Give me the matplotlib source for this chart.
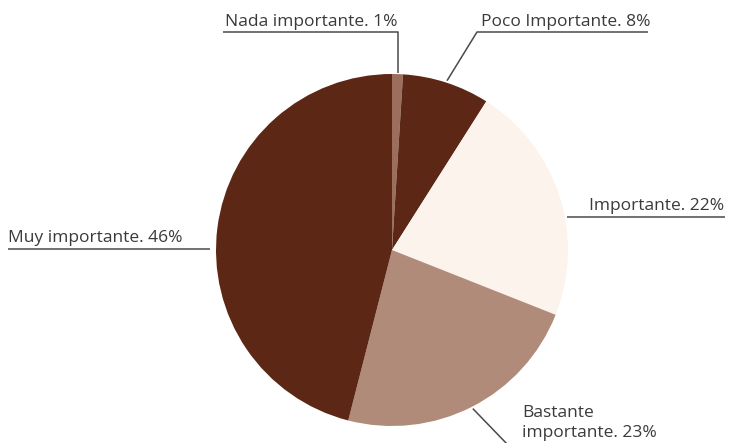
import numpy as np
import matplotlib
matplotlib.use("Agg")
import matplotlib.pyplot as plt

# Survey answers, clockwise from 12 o'clock
categories = ["Nada importante", "Poco Importante", "Importante",
              "Bastante importante", "Muy importante"]
shares = [1, 8, 22, 23, 46]
labels = ["Nada importante. 1%", "Poco Importante. 8%", "Importante. 22%",
          "Bastante\nimportante. 23%", "Muy importante. 46%"]
colors = ["#9c6f5c", "#5d2715", "#fcf3ec", "#b18b79", "#5d2715"]

W, H = 732, 443
fig = plt.figure(figsize=(W / 100, H / 100), dpi=100)
ax = fig.add_axes([0, 0, 1, 1])

cx, cy, R = 392, H - 250, 176
wedges, _ = ax.pie(shares, colors=colors, startangle=90, counterclock=False,
                   center=(cx, cy), radius=R, frame=True,
                   wedgeprops=dict(linewidth=0))
ax.set_xlim(0, W)
ax.set_ylim(0, H)
ax.set_aspect("equal")
ax.axis("off")

txt = dict(fontsize=12.5, color="#3a3a3a", family=["Open Sans", "DejaVu Sans"])
line = dict(color="#4a4a4a", lw=1.1, solid_capstyle="butt")


def edge(i, r=R + 1):
    w = wedges[i]
    a = np.deg2rad((w.theta1 + w.theta2) / 2)
    return cx + r * np.cos(a), cy + r * np.sin(a)


def py(y):
    return H - y

# Nada importante: vertical riser, underline to the left
x0, y0 = edge(0)
ax.plot([x0, x0, 223], [y0, py(32), py(32)], **line)
ax.text(225, py(26), labels[0], ha="left", va="baseline", **txt)

# Poco Importante: diagonal riser, underline to the right
x0, y0 = edge(1, R + 2)
ax.plot([x0, 477, 648], [y0, py(32), py(32)], **line)
ax.text(481, py(26), labels[1], ha="left", va="baseline", **txt)

# Importante: horizontal underline starting at the rim
yl = py(217)
xr = cx + np.sqrt(R ** 2 - (yl - cy) ** 2) + 2
ax.plot([xr, 725], [yl, yl], **line)
ax.text(724, py(210), labels[2], ha="right", va="baseline", **txt)

# Muy importante: underline ending at the rim on the left
ax.plot([8, 210], [py(249), py(249)], **line)
ax.text(8, py(242), labels[4], ha="left", va="baseline", **txt)

# Bastante importante: diagonal leader to the bottom edge
x0, y0 = edge(3, R + 2)
ax.plot([x0, 508], [y0, py(445)], **line)
ax.text(522, py(417), labels[3].split("\n")[0], ha="left", va="baseline", **txt)
ax.text(522, py(437), labels[3].split("\n")[1], ha="left", va="baseline", **txt)

fig.savefig("out.png", dpi=100, facecolor="white")
